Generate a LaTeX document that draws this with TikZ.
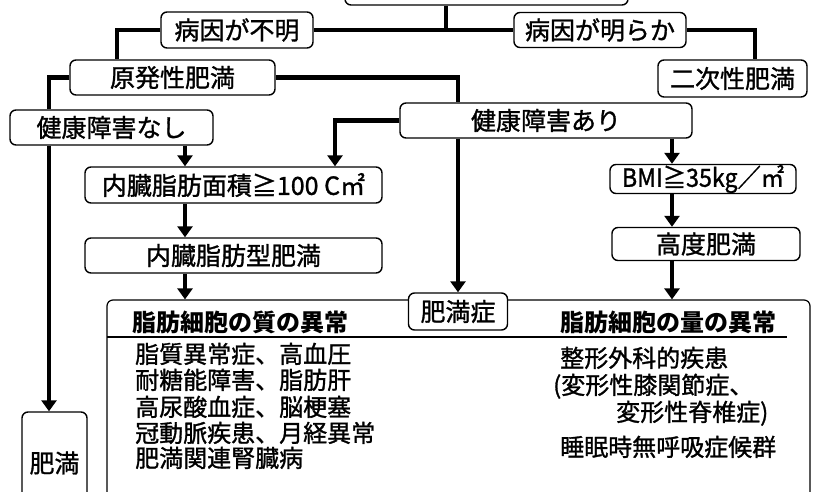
\documentclass[tikz,border=0pt]{standalone}
\usepackage{fontspec}
\setmainfont{Noto Sans CJK JP}[FakeBold=1.2]
\newfontfamily\jpheavy{Noto Sans CJK JP}
\usetikzlibrary{arrows.meta}
\begin{document}
\begin{tikzpicture}[x=1pt,y=-1pt,
  box/.style={draw, line width=1.4pt, rounded corners=6pt, fill=white, inner sep=0pt,
    font=\fontsize{25}{28}\selectfont},
  link/.style={line width=4.5pt},
  arr/.style={line width=4.5pt, -{Triangle[width=15pt,length=11pt]}},
  item/.style={anchor=base west, inner sep=0pt, font=\fontsize{24}{26}\selectfont},
  head/.style={inner sep=0pt, font=\jpheavy\fontsize{24}{26}\selectfont\bfseries}]
\useasboundingbox (0,0) rectangle (819,492);
\clip (0,0) rectangle (819,492);

% helper x positions
\coordinate (xJ) at (446,0);
\coordinate (xG) at (117,0);
\coordinate (xL) at (49,0);
\coordinate (xN) at (755,0);
\coordinate (xV) at (185,0);
\coordinate (xW) at (335,0);
\coordinate (xR) at (672,0);

% big frame
\node[draw, line width=1.2pt, rounded corners=6pt, minimum width=703pt, minimum height=230pt, inner sep=0pt] (big) at (458.5,415) {};
\draw[line width=1.4pt] (107,337) -- (787,337);

% boxes
\node[box, minimum width=283pt, minimum height=45pt] (top) at (486.5,-17.5) {};
\node[box, minimum width=152pt, minimum height=36pt] (fumei) at (237,30) {病因が不明};
\node[box, minimum width=172pt, minimum height=35pt] (meiraka) at (600,30) {病因が明らか};
\node[box, minimum width=205pt, minimum height=35pt] (genpatsu) at (172.5,77.5) {原発性肥満};
\node[box, minimum width=149pt, minimum height=37pt] (niji) at (732.5,78.5) {二次性肥満};
\node[box, minimum width=203pt, minimum height=35pt] (nashi) at (111.5,127.5) {健康障害なし};
\node[box, minimum width=292pt, minimum height=35pt] (ari) at (546,120.5) {健康障害あり};
\node[box, minimum width=297pt, minimum height=36pt] (men) at (233.5,185) {内臓脂肪面積≧100 C㎡};
\node[box, minimum width=186pt, minimum height=29pt] (bmi) at (703,179) {\scalebox{0.93}[1]{BMI≧35kg／㎡}};
\node[box, minimum width=188pt, minimum height=33pt] (kodo) at (706,244) {高度肥満};
\node[box, minimum width=297pt, minimum height=35pt] (gata) at (233.5,255.5) {内臓脂肪型肥満};
\node[box, minimum width=99pt, minimum height=37pt] (hs) at (458,311.5) {肥満症};
\node[box, minimum width=65pt, minimum height=102pt] (himan) at (54.5,463) {肥満};

% connectors
\draw[link] (top.south -| xJ) -- (fumei.east -| xJ);
\draw[link] (fumei.east) -- (meiraka.west);
\draw[link] (fumei.west) -| (genpatsu.north -| xG);
\draw[link] (genpatsu.west) -| (nashi.north -| xL);
\draw[link] (genpatsu.east) -| (ari.north -| hs.north);
\draw[link] (meiraka.east) -| (niji.north -| xN);
\draw[arr] (nashi.south -| xV) -- (men.north -| xV);
\draw[arr] (ari.west) -| (men.north -| xW);
\draw[arr] (men.south -| xV) -- (gata.north -| xV);
\draw[arr] (gata.south -| xV) -- (big.north -| xV);
\draw[arr] (nashi.south -| xL) -- (himan.north -| xL);
\draw[arr] (ari.south -| hs.north) -- (hs.north);
\draw[arr] (ari.south -| xR) -- (bmi.north -| xR);
\draw[arr] (bmi.south -| xR) -- (kodo.north -| xR);
\draw[arr] (kodo.south -| xR) -- (big.north -| xR);

% headings
\node[head] (h1) at (240,322) {脂肪細胞の質の異常};
\node[head] (h2) at (668,322) {脂肪細胞の量の異常};

% left list
\node[item] (l1) at (135,363) {脂質異常症、高血圧};
\node[item] (l2) at (135,389) {耐糖能障害、脂肪肝};
\node[item] (l3) at (135,416) {高尿酸血症、脳梗塞};
\node[item] (l4) at (135,442) {冠動脈疾患、月経異常};
\node[item] (l5) at (135,467) {肥満関連腎臓病};

% right list
\node[item] (r1) at (560,367) {整形外科的疾患};
\node[item] (r2) at (553,394) {(変形性膝関節症、};
\node[item] (r3) at (616,421) {変形性脊椎症)};
\node[item] (r4) at (560,456) {睡眠時無呼吸症候群};
\end{tikzpicture}
\end{document}
